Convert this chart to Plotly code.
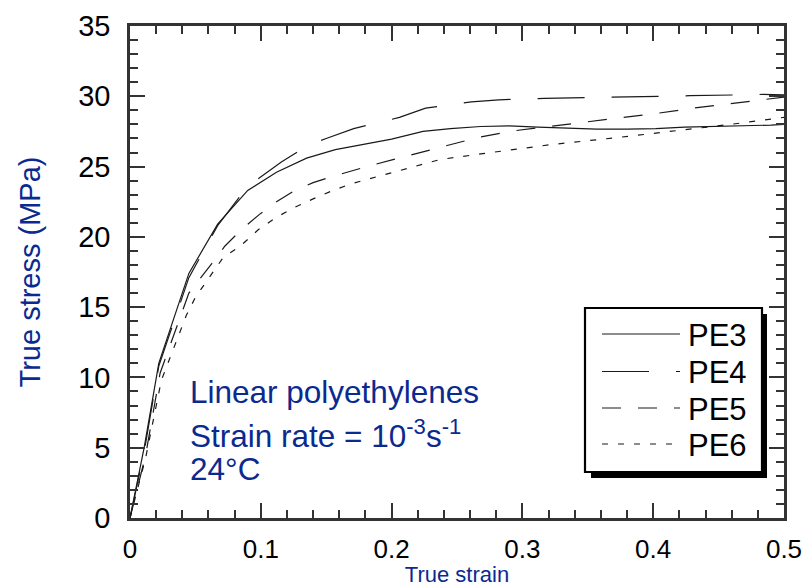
import plotly.graph_objects as go

# ---------------- data ----------------
pe3_strain = [0, 0.011, 0.022, 0.045, 0.067, 0.09, 0.112, 0.135, 0.157, 0.18, 0.2, 0.224,
              0.245, 0.268, 0.29, 0.312, 0.334, 0.357, 0.38, 0.402, 0.424, 0.446, 0.468, 0.49, 0.5]
pe3_stress = [0, 5.1, 11.0, 17.4, 20.9, 23.3, 24.6, 25.6, 26.2, 26.6, 26.95, 27.5,
              27.7, 27.85, 27.9, 27.8, 27.73, 27.66, 27.66, 27.7, 27.8, 27.85, 27.85, 27.95, 28.0]

pe4_strain = [0, 0.011, 0.022, 0.045, 0.067, 0.09, 0.116, 0.136, 0.15, 0.171, 0.206, 0.226,
              0.261, 0.282, 0.317, 0.372, 0.428, 0.484, 0.5]
pe4_stress = [0, 4.8, 10.8, 17.1, 20.8, 23.6, 25.35, 26.5, 27.0, 27.7, 28.5, 29.16,
              29.6, 29.75, 29.85, 29.92, 30.04, 30.13, 30.1]

pe5_strain = [0, 0.012, 0.023, 0.036, 0.045, 0.0625, 0.0726, 0.085, 0.099, 0.112, 0.126, 0.14,
              0.155, 0.183, 0.21, 0.237, 0.266, 0.293, 0.321, 0.348, 0.376, 0.404, 0.431, 0.459, 0.5]
pe5_stress = [0, 4.5, 10.3, 13.6, 16.0, 18.1, 19.35, 20.5, 21.6, 22.5, 23.3, 23.86,
              24.3, 25.05, 25.7, 26.4, 27.07, 27.54, 27.85, 28.2, 28.5, 28.8, 29.16, 29.47, 29.94]

pe6_strain = [0, 0.012, 0.024, 0.043, 0.05, 0.061, 0.071, 0.085, 0.098, 0.112, 0.126, 0.14,
              0.155, 0.17, 0.197, 0.237, 0.268, 0.321, 0.376, 0.415, 0.459, 0.5]
pe6_stress = [0, 4.3, 9.8, 14.4, 15.7, 17.2, 18.5, 19.4, 20.5, 21.4, 22.1, 22.7,
              23.3, 23.8, 24.5, 25.5, 25.9, 26.55, 27.1, 27.5, 28.0, 28.5]

series_names = ["PE3", "PE4", "PE5", "PE6"]
x_label = "True strain"
y_label = "True stress (MPa)"
note_lines = ["Linear polyethylenes",
              "Strain rate = 10<sup>-3</sup>s<sup>-1</sup>",
              "24°C"]

# ---------------- styling ----------------
FONT = "Liberation Sans, Arial, Helvetica, sans-serif"
BLUE = "#0b2a8f"
AX = "#333333"
LINE = "#1a1a1a"
dashes = ["solid", "47px,27px", "19px,17px", "6px,10px"]

W, H = 807, 587
L, R, T, B = 130, 23, 26, 69
PW, PH = W - L - R, H - T - B


def px(xp):
    return (xp - L) / PW


def py(yp):
    return (H - B - yp) / PH


fig = go.Figure()
data = [(pe3_strain, pe3_stress), (pe4_strain, pe4_stress),
        (pe5_strain, pe5_stress), (pe6_strain, pe6_stress)]
for (xs, ys), name, d in zip(data, series_names, dashes):
    fig.add_trace(go.Scatter(x=xs, y=ys, mode="lines", name=name, showlegend=False,
                             line=dict(color=LINE, width=1.2, dash=d)))

axis_common = dict(
    showline=True, linewidth=2.5, linecolor=AX, mirror="allticks",
    ticks="inside", ticklen=15, tickwidth=2, tickcolor=AX,
    showgrid=False, zeroline=False, automargin=False,
)

fig.update_xaxes(range=[0, 0.5], dtick=0.1, tick0=0,
                 minor=dict(dtick=0.02, ticks="inside", ticklen=8, tickwidth=2, tickcolor=AX, showgrid=False),
                 ticklabelstandoff=6,
                 tickfont=dict(family=FONT, size=26, color="black"),
                 title=dict(text=x_label, font=dict(family=FONT, size=22, color=BLUE), standoff=4),
                 **axis_common)
fig.update_yaxes(range=[0, 35], dtick=5, tick0=0,
                 minor=dict(dtick=1, ticks="inside", ticklen=8, tickwidth=2, tickcolor=AX, showgrid=False),
                 ticklabelstandoff=11,
                 tickfont=dict(family=FONT, size=29, color="black"),
                 title=dict(text=y_label, font=dict(family=FONT, size=29, color=BLUE), standoff=30),
                 **axis_common)

# legend box with drop shadow (drawn manually)
shapes = []
shapes.append(dict(type="rect", xref="paper", yref="paper",
                   x0=px(591), x1=px(767), y0=py(478), y1=py(314),
                   fillcolor="black", line=dict(width=0), layer="above"))
shapes.append(dict(type="rect", xref="paper", yref="paper",
                   x0=px(585), x1=px(762), y0=py(472), y1=py(308),
                   fillcolor="white", line=dict(color="black", width=2.2), layer="above"))
legend_y = [334, 371.5, 408, 444]
annotations = []
for name, d, yy in zip(series_names, dashes, legend_y):
    shapes.append(dict(type="line", xref="paper", yref="paper",
                       x0=px(602), x1=px(680), y0=py(yy), y1=py(yy),
                       line=dict(color=LINE, width=1.2, dash=d), layer="above"))
    annotations.append(dict(xref="paper", yref="paper", x=px(686), y=py(yy + 1),
                            xanchor="left", yanchor="middle", showarrow=False,
                            text=name, font=dict(family=FONT, size=31, color="black")))

# annotation text
note_y = [392, 434, 469]
for txt, yy in zip(note_lines, note_y):
    annotations.append(dict(xref="paper", yref="paper", x=px(188), y=py(yy),
                            xanchor="left", yanchor="middle", showarrow=False,
                            text=txt, font=dict(family=FONT, size=31.5, color=BLUE)))

fig.update_layout(
    width=W, height=H,
    margin=dict(l=L, r=R, t=T, b=B, pad=0),
    plot_bgcolor="white", paper_bgcolor="white",
    shapes=shapes, annotations=annotations,
    showlegend=False,
)

fig.write_html("out.html")
